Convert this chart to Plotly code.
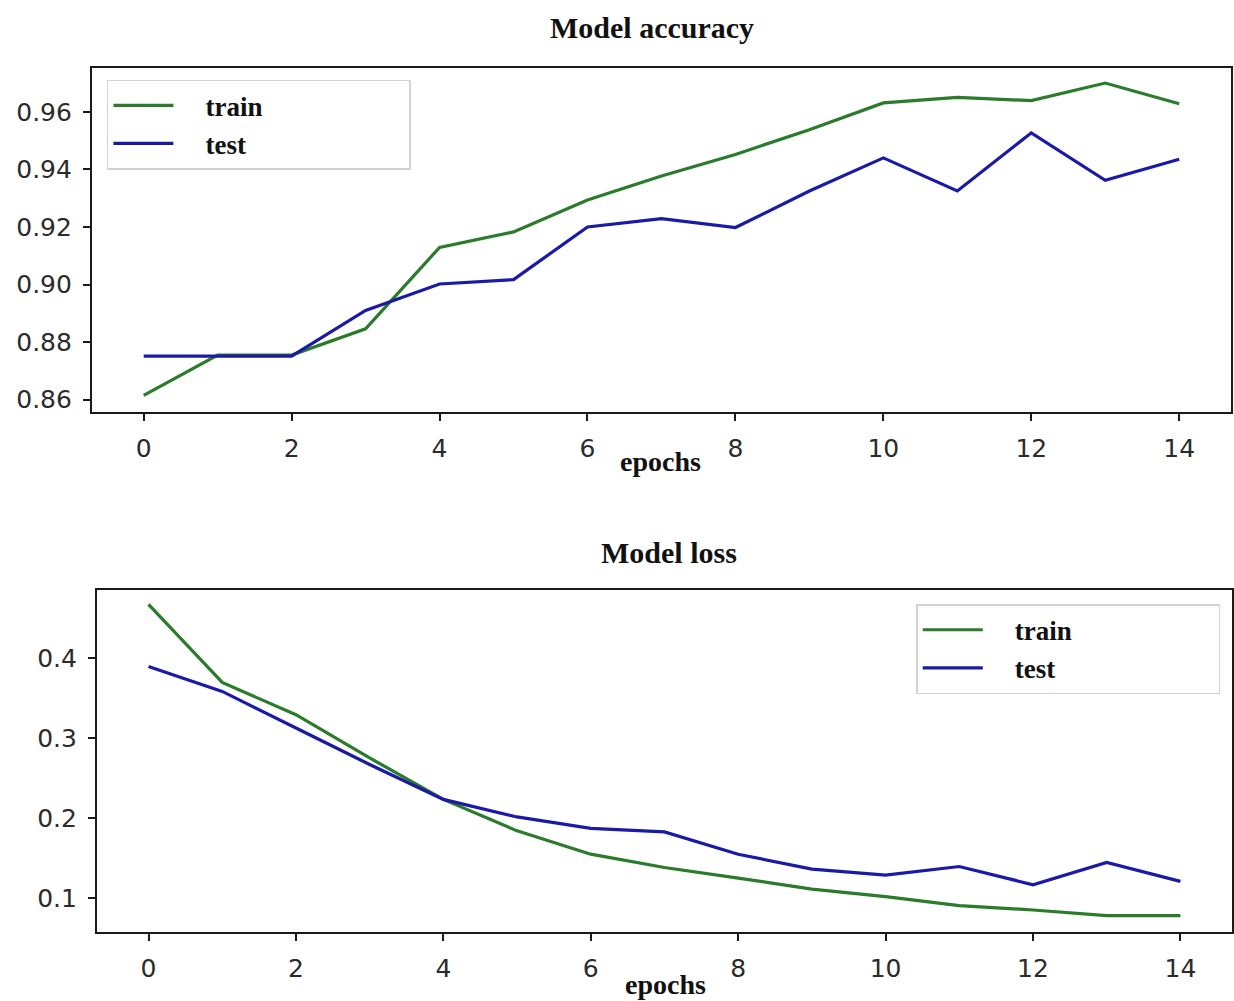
import plotly.graph_objects as go

# Training history over 15 epochs
epochs = list(range(15))

acc_train = [0.8615, 0.8755, 0.8755, 0.8846, 0.9129, 0.9183, 0.9294, 0.9377,
             0.9452, 0.9538, 0.9631, 0.9650, 0.9639, 0.9700, 0.9628]
acc_test = [0.8751, 0.8751, 0.8751, 0.8910, 0.9002, 0.9017, 0.9200, 0.9229,
            0.9198, 0.9325, 0.9440, 0.9325, 0.9527, 0.9362, 0.9435]

loss_train = [0.4673, 0.3697, 0.3293, 0.2753, 0.2234, 0.1840, 0.1548, 0.1382,
              0.1249, 0.1112, 0.1017, 0.0905, 0.0850, 0.0780, 0.0780]
loss_test = [0.3896, 0.3585, 0.3127, 0.2670, 0.2234, 0.2014, 0.1872, 0.1827,
             0.1548, 0.1361, 0.1286, 0.1394, 0.1166, 0.1444, 0.1208]

acc_ticks = [0.86, 0.88, 0.90, 0.92, 0.94, 0.96]
loss_ticks = [0.1, 0.2, 0.3, 0.4]
epoch_ticks = [0, 2, 4, 6, 8, 10, 12, 14]

GREEN = "#2a7b2a"
BLUE = "#1a1aa6"
SERIF = "Liberation Serif, Times New Roman, serif"
SANS = "DejaVu Sans, sans-serif"

W, H = 1234, 1001
NB = "\u00a0"


def entry(label, pad_left=4, pad_right=21):
    # non-breaking spaces give the legend its wide, airy layout
    return NB * pad_left + label + NB * pad_right


fig = go.Figure()

fig.add_trace(go.Scatter(x=epochs, y=acc_train, mode="lines", name=entry("train"),
                         line=dict(color=GREEN, width=3.2), xaxis="x", yaxis="y",
                         legend="legend"))
fig.add_trace(go.Scatter(x=epochs, y=acc_test, mode="lines", name=entry("test"),
                         line=dict(color=BLUE, width=3.2), xaxis="x", yaxis="y",
                         legend="legend"))
fig.add_trace(go.Scatter(x=epochs, y=loss_train, mode="lines", name=entry("train"),
                         line=dict(color=GREEN, width=3.2), xaxis="x2", yaxis="y2",
                         legend="legend2"))
fig.add_trace(go.Scatter(x=epochs, y=loss_test, mode="lines", name=entry("test"),
                         line=dict(color=BLUE, width=3.2), xaxis="x2", yaxis="y2",
                         legend="legend2"))


def px_x(v):
    return v / W


def px_y(v):
    return 1 - v / H


axis_common = dict(
    showline=True, linecolor="#1a1a1a", linewidth=2, mirror=True,
    showgrid=False, zeroline=False,
    ticks="outside", ticklen=7, tickwidth=1.5, tickcolor="#1a1a1a",
    tickfont=dict(family=SANS, size=25, color="#2b2b2b"),
)

legend_common = dict(
    font=dict(family=SERIF, size=27, color="#111111", weight="bold"),
    bgcolor="rgba(255,255,255,0.9)", bordercolor="#d2d2d2", borderwidth=1.5,
    xanchor="left", yanchor="top", itemwidth=60, tracegroupgap=0,
)

fig.update_layout(
    width=W, height=H,
    margin=dict(l=0, r=0, t=0, b=0),
    paper_bgcolor="white", plot_bgcolor="white",
    xaxis=dict(domain=[px_x(92), px_x(1232)], range=[-0.7, 14.7],
               tickvals=epoch_ticks, anchor="y", ticklabelstandoff=6,
               **axis_common),
    yaxis=dict(domain=[px_y(413), px_y(68)], range=[0.8558, 0.9753],
               tickvals=acc_ticks, tickformat=".2f", anchor="x",
               ticklabelstandoff=6, **axis_common),
    xaxis2=dict(domain=[px_x(97), px_x(1233)], range=[-0.7, 14.7],
                tickvals=epoch_ticks, anchor="y2", ticklabelstandoff=6,
                **axis_common),
    yaxis2=dict(domain=[px_y(935), px_y(592)], range=[0.0572, 0.4851],
                tickvals=loss_ticks, tickformat=".1f", anchor="x2",
                ticklabelstandoff=6, **axis_common),
    legend=dict(x=px_x(107), y=px_y(80), **legend_common),
    legend2=dict(x=px_x(917), y=px_y(606), **legend_common),
    showlegend=True,
)

title_font = dict(family=SERIF, size=30, color="#111111", weight="bold")
label_font = dict(family=SERIF, size=28, color="#111111", weight="bold")

fig.add_annotation(text="Model accuracy", x=px_x(653), y=px_y(28),
                   xref="paper", yref="paper", showarrow=False,
                   xanchor="center", yanchor="middle", font=title_font)
fig.add_annotation(text="Model loss", x=px_x(670), y=px_y(554),
                   xref="paper", yref="paper", showarrow=False,
                   xanchor="center", yanchor="middle", font=title_font)
fig.add_annotation(text="epochs", x=px_x(661), y=px_y(463),
                   xref="paper", yref="paper", showarrow=False,
                   xanchor="center", yanchor="middle", font=label_font)
fig.add_annotation(text="epochs", x=px_x(666), y=px_y(987),
                   xref="paper", yref="paper", showarrow=False,
                   xanchor="center", yanchor="middle", font=label_font)

fig.write_html("out.html")
